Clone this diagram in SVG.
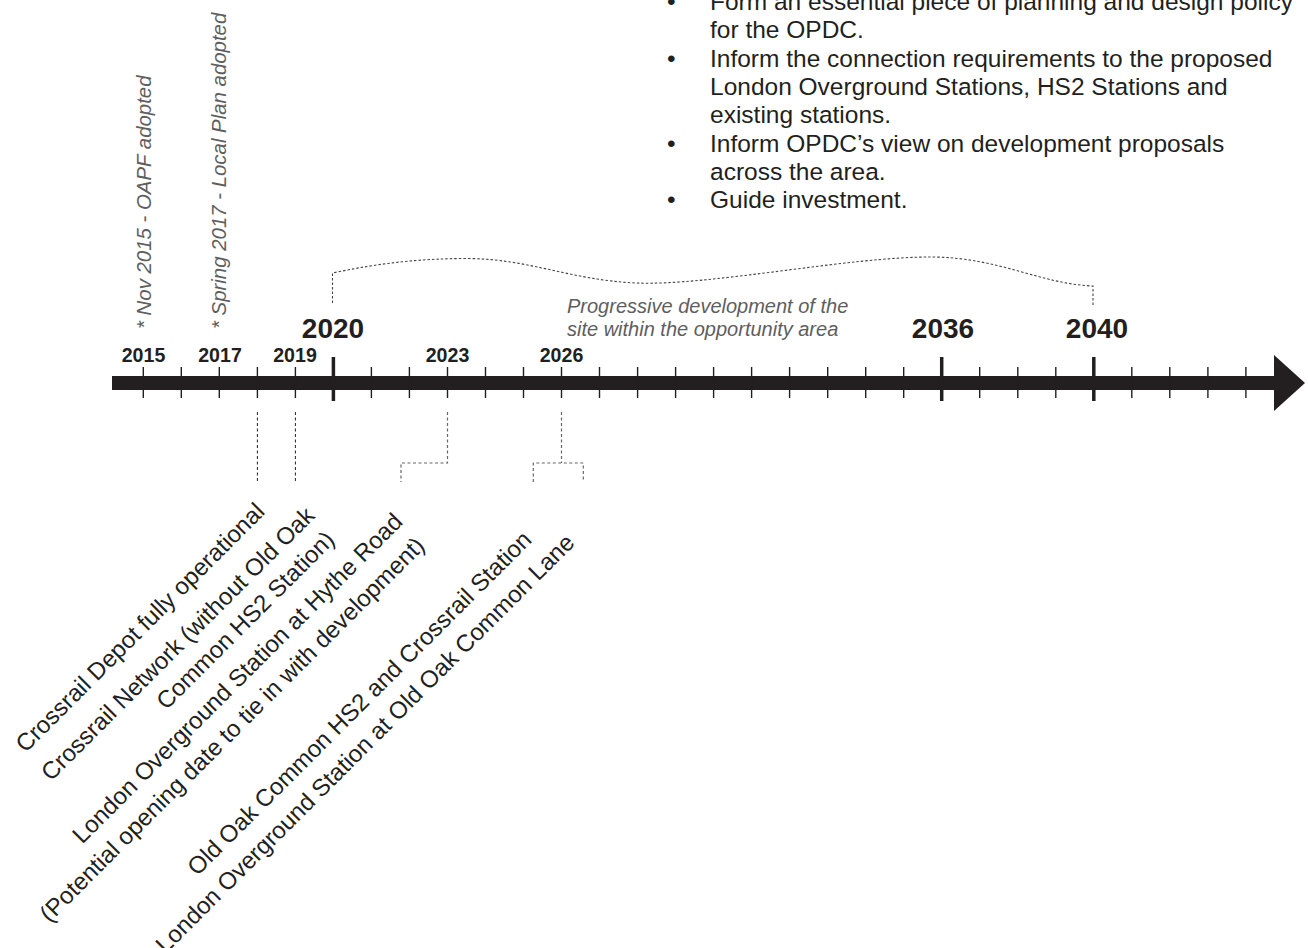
<svg xmlns="http://www.w3.org/2000/svg" width="1308" height="948" viewBox="0 0 1308 948">
<style>
  .body { font-family: "Liberation Sans", Arial, sans-serif; font-size: 24.5px; fill: #231f20; }
  .lbl { font-family: "Liberation Sans", Arial, sans-serif; font-size: 24px; fill: #231f20; }
  .note { font-family: "Liberation Sans", Arial, sans-serif; font-size: 20.4px; font-style: italic; fill: #5e5e5e; }
  .yr { font-family: "Liberation Sans", Arial, sans-serif; font-size: 19.6px; font-weight: bold; fill: #231f20; text-anchor: middle; }
  .yrb { font-family: "Liberation Sans", Arial, sans-serif; font-size: 28px; font-weight: bold; fill: #231f20; text-anchor: middle; }
  .tick { stroke: #231f20; stroke-width: 1.4; }
  .tickb { stroke: #231f20; stroke-width: 3.5; }
  .dashk { fill: none; stroke: #231f20; stroke-width: 1; stroke-dasharray: 3 2.5; }
  .dashg { fill: none; stroke: #666; stroke-width: 1.2; stroke-dasharray: 3 2.5; }
  .brace { fill: none; stroke: #444; stroke-width: 1.1; stroke-dasharray: 2.5 2; }
</style>

<g id="bullets">
  <text class="body" x="667" y="10">•</text>
  <text class="body" x="710" y="10">Form an essential piece of planning and design policy</text>
  <text class="body" x="710" y="38.3">for the OPDC.</text>
  <text class="body" x="667" y="66.6">•</text>
  <text class="body" x="710" y="66.6">Inform the connection requirements to the proposed</text>
  <text class="body" x="710" y="94.9">London Overground Stations, HS2 Stations and</text>
  <text class="body" x="710" y="123.2">existing stations.</text>
  <text class="body" x="667" y="151.5">•</text>
  <text class="body" x="710" y="151.5">Inform OPDC’s view on development proposals</text>
  <text class="body" x="710" y="179.8">across the area.</text>
  <text class="body" x="667" y="208.1">•</text>
  <text class="body" x="710" y="208.1">Guide investment.</text>
</g>

<g id="note-2015">
  <text class="note" transform="translate(151,329) rotate(-90)">* Nov 2015 - OAPF adopted</text>
</g>
<g id="note-2017">
  <text class="note" transform="translate(226,329) rotate(-90)">* Spring 2017 - Local Plan adopted</text>
</g>

<g id="progressive">
  <path class="brace" d="M332.5,303 V273 C380,263 420,258.5 468,258.5 C530,259 570,280 636,283 C710,286 850,256.5 932,257 C1000,257.5 1040,284 1093,286 V305"/>
  <text class="note" x="567" y="313" style="font-size:20px">Progressive development of the</text>
  <text class="note" x="567" y="336" style="font-size:20px">site within the opportunity area</text>
</g>

<g id="timeline">
  <rect x="112" y="376" width="1163" height="14" fill="#231f20"/>
  <polygon points="1274,355 1305,383 1274,411" fill="#231f20"/>
  <g id="ticks">
    <line class="tick" x1="143.3" y1="367" x2="143.3" y2="398"/>
    <line class="tick" x1="181.3" y1="367" x2="181.3" y2="398"/>
    <line class="tick" x1="219.3" y1="367" x2="219.3" y2="398"/>
    <line class="tick" x1="257.4" y1="367" x2="257.4" y2="398"/>
    <line class="tick" x1="295.4" y1="367" x2="295.4" y2="398"/>
    <line class="tickb" x1="333.4" y1="357" x2="333.4" y2="401"/>
    <line class="tick" x1="371.4" y1="367" x2="371.4" y2="398"/>
    <line class="tick" x1="409.4" y1="367" x2="409.4" y2="398"/>
    <line class="tick" x1="447.5" y1="367" x2="447.5" y2="398"/>
    <line class="tick" x1="485.5" y1="367" x2="485.5" y2="398"/>
    <line class="tick" x1="523.5" y1="367" x2="523.5" y2="398"/>
    <line class="tick" x1="561.5" y1="367" x2="561.5" y2="398"/>
    <line class="tick" x1="599.5" y1="367" x2="599.5" y2="398"/>
    <line class="tick" x1="637.6" y1="367" x2="637.6" y2="398"/>
    <line class="tick" x1="675.6" y1="367" x2="675.6" y2="398"/>
    <line class="tick" x1="713.6" y1="367" x2="713.6" y2="398"/>
    <line class="tick" x1="751.6" y1="367" x2="751.6" y2="398"/>
    <line class="tick" x1="789.6" y1="367" x2="789.6" y2="398"/>
    <line class="tick" x1="827.7" y1="367" x2="827.7" y2="398"/>
    <line class="tick" x1="865.7" y1="367" x2="865.7" y2="398"/>
    <line class="tick" x1="903.7" y1="367" x2="903.7" y2="398"/>
    <line class="tickb" x1="941.7" y1="357" x2="941.7" y2="401"/>
    <line class="tick" x1="979.7" y1="367" x2="979.7" y2="398"/>
    <line class="tick" x1="1017.8" y1="367" x2="1017.8" y2="398"/>
    <line class="tick" x1="1055.8" y1="367" x2="1055.8" y2="398"/>
    <line class="tickb" x1="1093.8" y1="357" x2="1093.8" y2="401"/>
    <line class="tick" x1="1131.8" y1="367" x2="1131.8" y2="398"/>
    <line class="tick" x1="1169.8" y1="367" x2="1169.8" y2="398"/>
    <line class="tick" x1="1207.9" y1="367" x2="1207.9" y2="398"/>
    <line class="tick" x1="1245.9" y1="367" x2="1245.9" y2="398"/>
  </g>
  <g id="years">
    <text class="yr" x="143.5" y="362">2015</text>
    <text class="yr" x="220" y="362">2017</text>
    <text class="yr" x="295" y="362">2019</text>
    <text class="yr" x="447.5" y="362">2023</text>
    <text class="yr" x="561.5" y="362">2026</text>
    <text class="yrb" x="333" y="338">2020</text>
    <text class="yrb" x="943" y="338">2036</text>
    <text class="yrb" x="1097" y="338">2040</text>
  </g>
</g>

<g id="connectors">
  <path class="dashk" d="M257.4,412 V482"/>
  <path class="dashk" d="M295.4,412 V482"/>
  <path class="dashg" d="M447.5,412 V463 H401 V482"/>
  <path class="dashg" d="M561.5,412 V463 M533.3,482 V463 H583.3 V482"/>
</g>

<g id="label-crossrail-depot">
  <text class="lbl" text-anchor="end" transform="translate(266,513) rotate(-45)">Crossrail Depot fully operational</text>
</g>
<g id="label-crossrail-network">
  <text class="lbl" text-anchor="end" transform="translate(316,517) rotate(-45)">Crossrail Network (without Old Oak</text>
  <text class="lbl" text-anchor="end" transform="translate(336,541) rotate(-45)">Common HS2 Station)</text>
</g>
<g id="label-hythe-road">
  <text class="lbl" text-anchor="end" transform="translate(404,523) rotate(-45)">London Overground Station at Hythe Road</text>
  <text class="lbl" text-anchor="end" transform="translate(426,547) rotate(-45)">(Potential opening date to tie in with development)</text>
</g>
<g id="label-old-oak">
  <text class="lbl" text-anchor="end" transform="translate(533,541) rotate(-45)">Old Oak Common HS2 and Crossrail Station</text>
  <text class="lbl" text-anchor="end" transform="translate(576,544) rotate(-45)">London Overground Station at Old Oak Common Lane</text>
</g>
</svg>
